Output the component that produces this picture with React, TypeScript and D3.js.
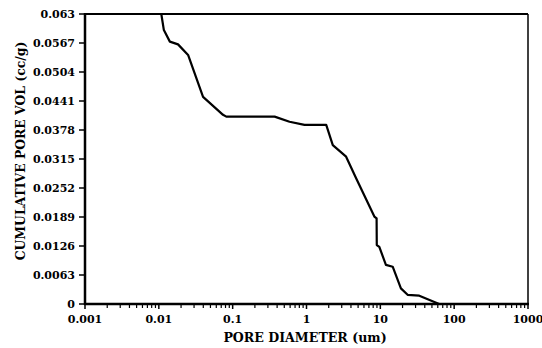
import React from "react";
import * as d3 from "d3";

const diameters = [0.0108, 0.0117, 0.0141, 0.0182, 0.0249, 0.0397, 0.074, 0.082, 0.37, 0.589, 0.94, 1.85, 2.27, 3.44, 4.7, 8.3, 8.9, 8.95, 9.69, 11.9, 14.7, 19.0, 23.4, 33.7, 62.7];
const volumes = [0.063, 0.0595, 0.057, 0.0564, 0.0541, 0.045, 0.0411, 0.0407, 0.0407, 0.0396, 0.0389, 0.0389, 0.0345, 0.032, 0.0273, 0.019, 0.0186, 0.0128, 0.0124, 0.0085, 0.0081, 0.0034, 0.002, 0.0018, 0];
const yTickLabels = ["0", "0.0063", "0.0126", "0.0189", "0.0252", "0.0315", "0.0378", "0.0441", "0.0504", "0.0567", "0.063"];
const xTickLabels = ["0.001", "0.01", "0.1", "1", "10", "100", "1000"];

const W = 542, H = 348;
const L = 85, R = 528, T = 14, B = 304;
const FONT = "'DejaVu Serif', serif";

export default function App() {
  const x = d3.scaleLog().domain([0.001, 1000]).range([L, R]);
  const y = d3.scaleLinear().domain([0, 0.063]).range([B, T]);
  const pts: [number, number][] = diameters.map((d, i) => [d, volumes[i]]);
  const line = d3.line<[number, number]>().x(d => x(d[0])).y(d => y(d[1]));
  const data = [[0.001, 0.063] as [number, number], ...pts];

  const minor: number[] = [];
  for (let e = -3; e < 3; e++) for (let k = 2; k <= 9; k++) minor.push(k * Math.pow(10, e));

  return (
    <svg width={W} height={H} style={{ position: "absolute", left: 0, top: 0, background: "#fff" }} fontFamily={FONT} fontWeight="bold">
      <line x1={L} x2={R} y1={T} y2={T} stroke="#000" strokeWidth={2} />
      <line x1={R} x2={R} y1={T} y2={B} stroke="#000" strokeWidth={1.5} />
      <path d={line(data) || ""} fill="none" stroke="#000" strokeWidth={2.2} strokeLinejoin="round" />
      <line x1={L} x2={L} y1={T - 1} y2={B + 1} stroke="#000" strokeWidth={2.5} />
      <line x1={L - 1} x2={R + 1} y1={B} y2={B} stroke="#000" strokeWidth={2.5} />
      {yTickLabels.map((lab, i) => {
        const v = (0.063 * i) / 10;
        const yy = y(v);
        return (
          <g key={lab}>
            <line x1={L - 6} x2={L} y1={yy} y2={yy} stroke="#000" strokeWidth={1.5} />
            <text x={L - 10} y={yy} dy="0.38em" textAnchor="end" fontSize={11}>{lab}</text>
          </g>
        );
      })}
      {xTickLabels.map((lab, i) => {
        const xx = x(Math.pow(10, i - 3));
        return (
          <g key={lab}>
            <line x1={xx} x2={xx} y1={B} y2={B + 5} stroke="#000" strokeWidth={1.5} />
            <text x={xx} y={323} textAnchor="middle" fontSize={11}>{lab}</text>
          </g>
        );
      })}
      {minor.map(m => (
        <line key={m} x1={x(m)} x2={x(m)} y1={B} y2={B + 4} stroke="#000" strokeWidth={1.2} />
      ))}
      <text x={305} y={342} textAnchor="middle" fontSize={12.6}>PORE DIAMETER (um)</text>
      <text transform={`translate(25, 151) rotate(-90)`} textAnchor="middle" fontSize={12.4}>CUMULATIVE PORE VOL (cc/g)</text>
    </svg>
  );
}
